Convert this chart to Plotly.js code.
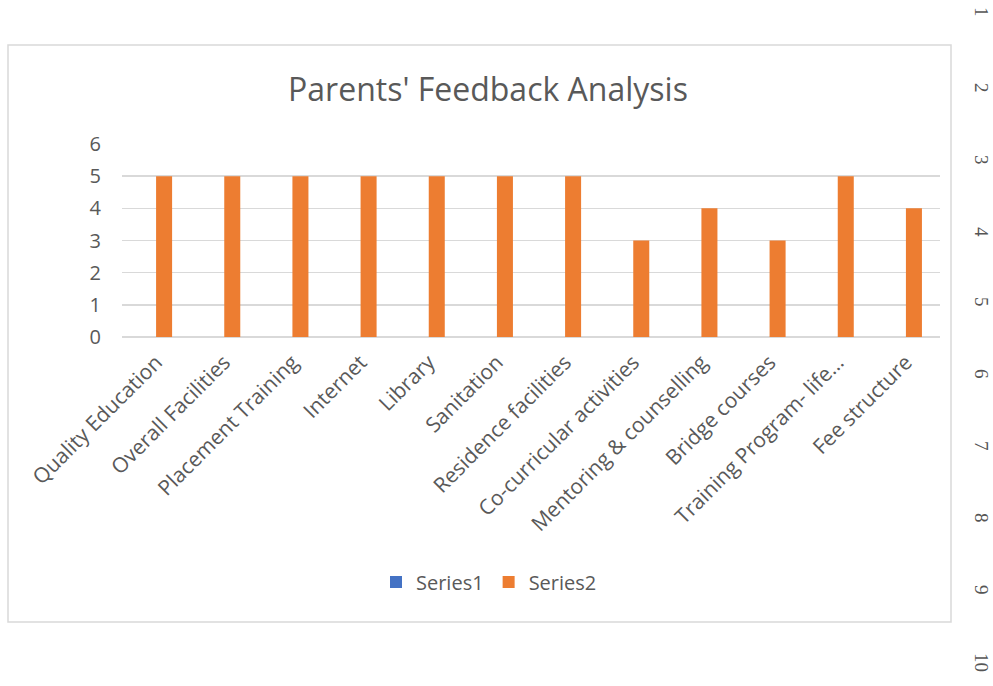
<!DOCTYPE html>
<html>
<head>
<meta charset="utf-8">
<script src="https://cdn.plot.ly/plotly-3.0.1.min.js"></script>
<style>html,body{margin:0;padding:0;background:#fff;}#chart{width:993px;height:686px;}</style>
</head>
<body>
<div id="chart"></div>
<script>
const categories = ["Quality Education","Overall Facilities","Placement Training","Internet","Library","Sanitation","Residence facilities","Co-curricular activities","Mentoring & counselling","Bridge courses","Training Program- life…","Fee structure"];
const series1 = [0,0,0,0,0,0,0,0,0,0,0,0];
const series2 = [5,5,5,5,5,5,5,3,4,3,5,4];
const yTicks = [0,1,2,3,4,5,6];
const pageNumbers = ["1","2","3","4","5","6","7","8","9","10"];
const pageNumberY = [12,88,160,232,302,374,446,518,590,662];

const FONT = "'Open Sans', 'Segoe UI', sans-serif";
const TXT = "#595959";
const W = 993, H = 686;
const L = 122, R = 53, T = 144, B = 349;
const pw = W - L - R, ph = H - T - B;
const px = x => (x - L) / pw;
const py = y => (H - B - y) / ph;

const traces = [
  {type:"bar", name:"Series1", x:categories, y:series1, marker:{color:"#4472C4"}},
  {type:"bar", name:"Series2", x:categories, y:series2, marker:{color:"#ED7D31"}}
];

const annotations = pageNumbers.map((t,i)=>({
  text:t, xref:"paper", yref:"paper", x:px(982), y:py(pageNumberY[i]),
  showarrow:false, textangle:90, xanchor:"center", yanchor:"middle",
  font:{family:"'Liberation Serif', 'DejaVu Serif', serif", size:19, color:"#555555"}
}));

const layout = {
  width:W, height:H,
  margin:{l:L, r:R, t:T, b:B, autoexpand:false},
  paper_bgcolor:"#fff", plot_bgcolor:"#fff",
  title:{text:"Parents' Feedback Analysis", x:488/W, xanchor:"center", y:1-90/H, yanchor:"middle",
         font:{family:FONT, size:32, color:TXT}},
  barmode:"group", bargap:0.53, bargroupgap:0,
  xaxis:{type:"category", tickangle:-45, showgrid:false, zeroline:false, showline:false,
         ticks:"", ticklabelstandoff:8, tickfont:{family:FONT, size:21, color:TXT}, fixedrange:true},
  yaxis:{range:[0,6], tickvals:yTicks, ticktext:yTicks.map(String), showgrid:true, gridcolor:"#d9d9d9", gridwidth:1.5,
         zeroline:true, zerolinecolor:"#d9d9d9", zerolinewidth:1.5, showline:false, ticks:"",
         ticklabelstandoff:20, tickfont:{family:FONT, size:20, color:TXT}},
  showlegend:true,
  legend:{orientation:"h", x:px(489), xanchor:"center", y:py(582), yanchor:"middle",
          font:{family:FONT, size:20, color:TXT}, bgcolor:"rgba(0,0,0,0)", traceorder:"normal"},
  shapes:[{type:"rect", xref:"paper", yref:"paper", x0:px(8), x1:px(951), y0:py(622), y1:py(45),
           line:{color:"#d9d9d9", width:1.5}, fillcolor:"rgba(0,0,0,0)", layer:"below"}],
  annotations:annotations
};

Plotly.newPlot("chart", traces, layout, {displayModeBar:false, staticPlot:true});
</script>
</body>
</html>
